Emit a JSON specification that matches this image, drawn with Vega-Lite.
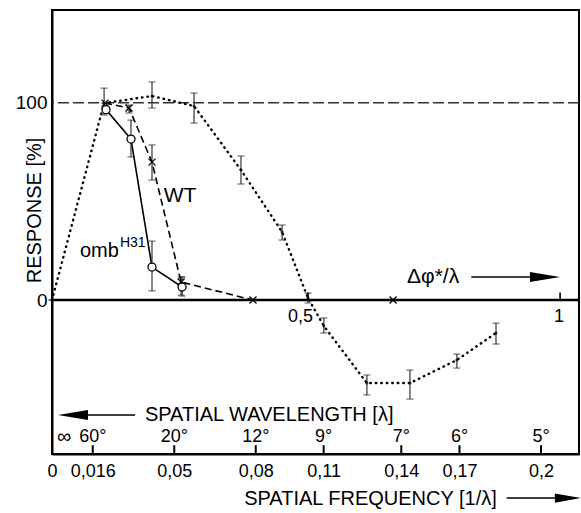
{
  "$schema": "https://vega.github.io/schema/vega-lite/v6.json",
  "width": 527,
  "height": 444,
  "autosize": "none",
  "padding": {"left": 52, "top": 10, "right": 2, "bottom": 59},
  "background": "white",
  "config": {
    "view": {"stroke": "black", "strokeWidth": 2},
    "font": "Liberation Sans",
    "axis": {"labelFont": "Liberation Sans", "titleFont": "Liberation Sans", "labelColor": "black", "titleColor": "black", "domainColor": "black", "domainWidth": 2, "grid": false, "titleFontWeight": "normal"}
  },
  "datasets": {
    "one": [{"k": 1}],
    "dotted": [
      {"f": 0, "r": 0, "lo": 0, "hi": 0},
      {"f": 0.0213, "r": 99.8, "lo": 93.8, "hi": 107.4},
      {"f": 0.0409, "r": 103.4, "lo": 97.3, "hi": 110.5},
      {"f": 0.0581, "r": 98.3, "lo": 89.7, "hi": 104.9},
      {"f": 0.0773, "r": 65.9, "lo": 58.8, "hi": 73.0},
      {"f": 0.0941, "r": 34.5, "lo": 30.4, "hi": 38.0},
      {"f": 0.1047, "r": 1.0, "lo": -1.5, "hi": 3.5},
      {"f": 0.1112, "r": -13.2, "lo": -16.7, "hi": -9.1},
      {"f": 0.1288, "r": -42.1, "lo": -48.1, "hi": -38.0},
      {"f": 0.1464, "r": -42.1, "lo": -50.2, "hi": -35.5},
      {"f": 0.1656, "r": -30.4, "lo": -34.5, "hi": -27.4},
      {"f": 0.1816, "r": -16.7, "lo": -22.3, "hi": -11.7}
    ],
    "omb": [
      {"f": 0.0221, "r": 96.5, "lo": 96.5, "hi": 96.5},
      {"f": 0.0323, "r": 81.6, "lo": 72.5, "hi": 91.2},
      {"f": 0.0409, "r": 16.7, "lo": 4.6, "hi": 29.9},
      {"f": 0.0532, "r": 6.6, "lo": 2.0, "hi": 11.7}
    ],
    "wt": [
      {"f": 0.0217, "r": 99.8, "lo": 99.8, "hi": 99.8},
      {"f": 0.0315, "r": 97.3, "lo": 94.8, "hi": 98.8},
      {"f": 0.0409, "r": 69.9, "lo": 60.8, "hi": 78.6},
      {"f": 0.0528, "r": 9.1, "lo": 2.5, "hi": 11.7},
      {"f": 0.0822, "r": 0, "lo": 0, "hi": 0},
      {"f": 0.1395, "r": 0, "lo": 0, "hi": 0}
    ],
    "angles": [
      {"f": 0.016667, "label": "60°"},
      {"f": 0.05, "label": "20°"},
      {"f": 0.083333, "label": "12°"},
      {"f": 0.111111, "label": "9°"},
      {"f": 0.142857, "label": "7°"},
      {"f": 0.166667, "label": "6°"},
      {"f": 0.2, "label": "5°"}
    ],
    "phi": [
      {"f": 0.1047, "label": "0,5"},
      {"f": 0.2078, "label": "1"}
    ]
  },
  "encoding": {
    "x": {"type": "quantitative", "scale": {"domain": [0, 0.21554], "nice": false, "zero": false}},
    "y": {"type": "quantitative", "scale": {"domain": [-78.05, 147.0], "nice": false, "zero": false}}
  },
  "layer": [
    {
      "data": {"name": "one"},
      "mark": {"type": "rule", "color": "#333", "strokeWidth": 1.5, "strokeDash": [11, 4]},
      "encoding": {"y": {"datum": 100, "type": "quantitative"}}
    },
    {
      "data": {"name": "one"},
      "mark": {"type": "rule", "color": "black", "strokeWidth": 2.5},
      "encoding": {"y": {"datum": 0, "type": "quantitative"}}
    },
    {
      "data": {"name": "dotted"},
      "mark": {"type": "line", "color": "black", "strokeWidth": 2.4, "strokeDash": [0.5, 5], "strokeCap": "round"},
      "encoding": {
        "x": {"field": "f", "type": "quantitative", "axis": {
          "title": "SPATIAL FREQUENCY  [1/λ]", "titleFontSize": 20, "titleX": 318, "titleY": 44, "titleBaseline": "middle", "titleAlign": "center",
          "values": [0, 0.016667, 0.05, 0.083333, 0.111111, 0.142857, 0.166667, 0.2],
          "ticks": false, "labelFontSize": 18, "labelPadding": 8, "labelFlush": false, "labelOverlap": false, "labelBound": false,
          "labelExpr": "datum.value < 0.001 ? '0' : datum.value < 0.02 ? '0,016' : datum.value < 0.06 ? '0,05' : datum.value < 0.09 ? '0,08' : datum.value < 0.12 ? '0,11' : datum.value < 0.15 ? '0,14' : datum.value < 0.18 ? '0,17' : '0,2'"
        }},
        "y": {"field": "r", "type": "quantitative", "axis": {
          "title": "RESPONSE [%]", "values": [0, 100], "ticks": false, "labelFontSize": 19, "labelPadding": 5, "titleFontSize": 20, "titleAngle": -90, "titleAlign": "center", "titleBaseline": "middle", "titleX": -18, "titleY": 200
        }}
      }
    },
    {
      "data": {"name": "wt"},
      "mark": {"type": "line", "color": "black", "strokeWidth": 1.6, "strokeDash": [7, 4]},
      "encoding": {"x": {"field": "f", "type": "quantitative"}, "y": {"field": "r", "type": "quantitative"}}
    },
    {
      "data": {"name": "omb"},
      "mark": {"type": "line", "color": "black", "strokeWidth": 1.6},
      "encoding": {"x": {"field": "f", "type": "quantitative"}, "y": {"field": "r", "type": "quantitative"}}
    },
    {
      "data": {"name": "dotted"},
      "layer": [
        {"mark": {"type": "rule", "color": "#222", "strokeWidth": 1.1}, "encoding": {"x": {"field": "f", "type": "quantitative"}, "y": {"field": "lo", "type": "quantitative"}, "y2": {"field": "hi"}}},
        {"mark": {"type": "tick", "orient": "horizontal", "color": "#222", "size": 7, "thickness": 1.1}, "encoding": {"x": {"field": "f", "type": "quantitative"}, "y": {"field": "lo", "type": "quantitative"}}},
        {"mark": {"type": "tick", "orient": "horizontal", "color": "#222", "size": 7, "thickness": 1.1}, "encoding": {"x": {"field": "f", "type": "quantitative"}, "y": {"field": "hi", "type": "quantitative"}}},
        {"mark": {"type": "point", "shape": "circle", "filled": true, "color": "black", "size": 10}, "encoding": {"x": {"field": "f", "type": "quantitative"}, "y": {"field": "r", "type": "quantitative"}}}
      ]
    },
    {
      "data": {"name": "wt"},
      "layer": [
        {"mark": {"type": "rule", "color": "#222", "strokeWidth": 1.1}, "encoding": {"x": {"field": "f", "type": "quantitative"}, "y": {"field": "lo", "type": "quantitative"}, "y2": {"field": "hi"}}},
        {"mark": {"type": "tick", "orient": "horizontal", "color": "#222", "size": 7, "thickness": 1.1}, "encoding": {"x": {"field": "f", "type": "quantitative"}, "y": {"field": "lo", "type": "quantitative"}}},
        {"mark": {"type": "tick", "orient": "horizontal", "color": "#222", "size": 7, "thickness": 1.1}, "encoding": {"x": {"field": "f", "type": "quantitative"}, "y": {"field": "hi", "type": "quantitative"}}},
        {"mark": {"type": "point", "shape": "M-1,-1L1,1M-1,1L1,-1", "filled": false, "color": "black", "strokeWidth": 1.3, "size": 49, "opacity": 1}, "encoding": {"x": {"field": "f", "type": "quantitative"}, "y": {"field": "r", "type": "quantitative"}}}
      ]
    },
    {
      "data": {"name": "omb"},
      "layer": [
        {"mark": {"type": "rule", "color": "#222", "strokeWidth": 1.1}, "encoding": {"x": {"field": "f", "type": "quantitative"}, "y": {"field": "lo", "type": "quantitative"}, "y2": {"field": "hi"}}},
        {"mark": {"type": "tick", "orient": "horizontal", "color": "#222", "size": 7, "thickness": 1.1}, "encoding": {"x": {"field": "f", "type": "quantitative"}, "y": {"field": "lo", "type": "quantitative"}}},
        {"mark": {"type": "tick", "orient": "horizontal", "color": "#222", "size": 7, "thickness": 1.1}, "encoding": {"x": {"field": "f", "type": "quantitative"}, "y": {"field": "hi", "type": "quantitative"}}},
        {"mark": {"type": "point", "shape": "circle", "filled": true, "fill": "white", "stroke": "black", "strokeWidth": 1.3, "size": 64, "opacity": 1}, "encoding": {"x": {"field": "f", "type": "quantitative"}, "y": {"field": "r", "type": "quantitative"}}}
      ]
    },
    {
      "data": {"name": "angles"},
      "mark": {"type": "rule", "color": "black", "strokeWidth": 2},
      "encoding": {"x": {"field": "f", "type": "quantitative"}, "y": {"datum": -77.6, "type": "quantitative"}, "y2": {"datum": -73.6}}
    },
    {
      "data": {"name": "angles"},
      "mark": {"type": "text", "fontSize": 18, "color": "black", "baseline": "middle", "align": "center"},
      "encoding": {"x": {"field": "f", "type": "quantitative"}, "y": {"datum": -69.4, "type": "quantitative"}, "text": {"field": "label"}}
    },
    {
      "data": {"name": "one"},
      "mark": {"type": "text", "text": "∞", "fontSize": 20, "color": "black", "baseline": "middle", "align": "center", "dx": 12},
      "encoding": {"x": {"datum": 0, "type": "quantitative"}, "y": {"datum": -69.4, "type": "quantitative"}}
    },
    {
      "data": {"name": "phi"},
      "mark": {"type": "rule", "color": "black", "strokeWidth": 1.6},
      "encoding": {"x": {"field": "f", "type": "quantitative"}, "y": {"datum": 0, "type": "quantitative"}, "y2": {"datum": 3.8}}
    },
    {
      "data": {"name": "phi"},
      "transform": [{"filter": "datum.label == '0,5'"}],
      "mark": {"type": "text", "fontSize": 18, "color": "black", "baseline": "middle", "align": "right", "dx": 5},
      "encoding": {"x": {"field": "f", "type": "quantitative"}, "y": {"datum": -8.6, "type": "quantitative"}, "text": {"field": "label"}}
    },
    {
      "data": {"name": "phi"},
      "transform": [{"filter": "datum.label == '1'"}],
      "mark": {"type": "text", "fontSize": 18, "color": "black", "baseline": "middle", "align": "center", "dx": -1},
      "encoding": {"x": {"field": "f", "type": "quantitative"}, "y": {"datum": -8.6, "type": "quantitative"}, "text": {"field": "label"}}
    },
    {
      "data": {"name": "one"},
      "mark": {"type": "text", "text": "Δφ*/λ", "fontSize": 21, "color": "black", "baseline": "middle", "align": "left"},
      "encoding": {"x": {"datum": 0.1452, "type": "quantitative"}, "y": {"datum": 11.7, "type": "quantitative"}}
    },
    {
      "data": {"name": "one"},
      "mark": {"type": "rule", "color": "black", "strokeWidth": 1.5},
      "encoding": {"x": {"datum": 0.1715, "type": "quantitative"}, "x2": {"datum": 0.2016}, "y": {"datum": 11.7, "type": "quantitative"}}
    },
    {
      "data": {"name": "one"},
      "mark": {"type": "point", "shape": "M1,0L-1,-0.33L-1,0.33Z", "filled": true, "color": "black", "size": 900, "opacity": 1},
      "encoding": {"x": {"datum": 0.2016, "type": "quantitative"}, "y": {"datum": 11.7, "type": "quantitative"}}
    },
    {
      "data": {"name": "one"},
      "mark": {"type": "text", "text": "SPATIAL WAVELENGTH [λ]", "fontSize": 20, "color": "black", "baseline": "middle", "align": "left"},
      "encoding": {"x": {"datum": 0.038, "type": "quantitative"}, "y": {"datum": -58.3, "type": "quantitative"}}
    },
    {
      "data": {"name": "one"},
      "mark": {"type": "rule", "color": "black", "strokeWidth": 1.5},
      "encoding": {"x": {"datum": 0.0086, "type": "quantitative"}, "x2": {"datum": 0.034}, "y": {"datum": -58.3, "type": "quantitative"}}
    },
    {
      "data": {"name": "one"},
      "mark": {"type": "point", "shape": "M-1,0L1,-0.33L1,0.33Z", "filled": true, "color": "black", "size": 900, "opacity": 1},
      "encoding": {"x": {"datum": 0.0086, "type": "quantitative"}, "y": {"datum": -58.3, "type": "quantitative"}}
    },
    {
      "data": {"name": "one"},
      "mark": {"type": "rule", "color": "black", "strokeWidth": 1.5, "clip": false},
      "encoding": {"x": {"datum": 0.186, "type": "quantitative"}, "x2": {"datum": 0.211}, "y": {"datum": -100.4, "type": "quantitative"}}
    },
    {
      "data": {"name": "one"},
      "mark": {"type": "point", "shape": "M1,0L-1,-0.36L-1,0.36Z", "filled": true, "color": "black", "size": 676, "opacity": 1, "clip": false},
      "encoding": {"x": {"datum": 0.211, "type": "quantitative"}, "y": {"datum": -100.4, "type": "quantitative"}}
    },
    {
      "data": {"name": "one"},
      "mark": {"type": "text", "text": "WT", "fontSize": 21, "color": "black", "baseline": "middle", "align": "center"},
      "encoding": {"x": {"datum": 0.0524, "type": "quantitative"}, "y": {"datum": 52.7, "type": "quantitative"}}
    },
    {
      "data": {"name": "one"},
      "mark": {"type": "text", "text": "omb", "fontSize": 20, "color": "black", "baseline": "alphabetic", "align": "left"},
      "encoding": {"x": {"datum": 0.01145, "type": "quantitative"}, "y": {"datum": 21.8, "type": "quantitative"}}
    },
    {
      "data": {"name": "one"},
      "mark": {"type": "text", "text": "H31", "fontSize": 14, "color": "black", "baseline": "alphabetic", "align": "left"},
      "encoding": {"x": {"datum": 0.0278, "type": "quantitative"}, "y": {"datum": 26.9, "type": "quantitative"}}
    }
  ]
}
